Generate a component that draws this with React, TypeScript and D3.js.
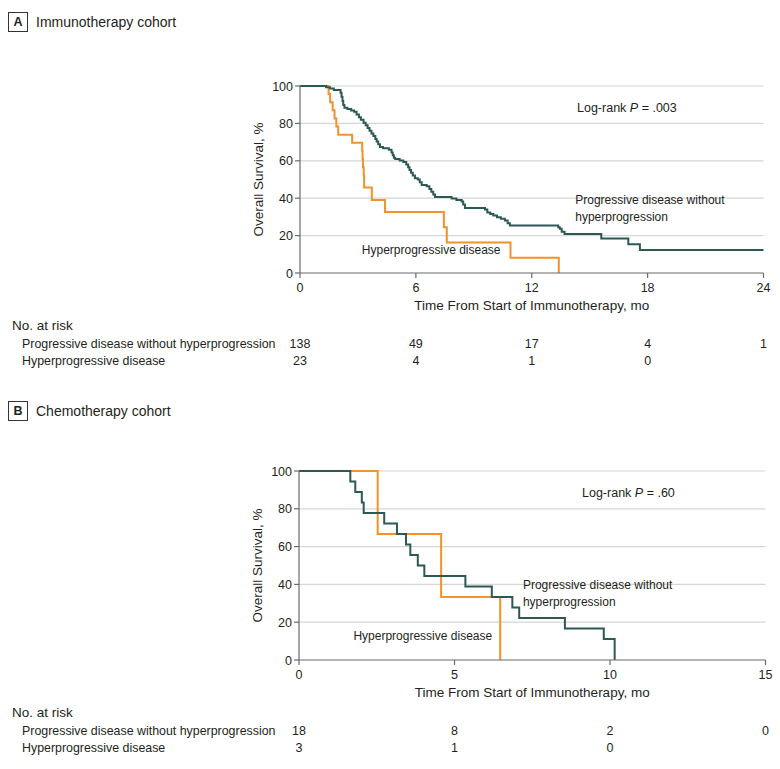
import React from "react";
import * as d3 from "d3";

// ---------- DATA ----------
// Panel A: immunotherapy cohort
const immunoXTicks = [0, 6, 12, 18, 24];
const survTicks = [0, 20, 40, 60, 80, 100];

const immunoPDTimes = [0, 1.35, 1.55, 1.75, 2.1, 2.15, 2.2, 2.24, 2.3, 2.45, 2.65, 2.8, 2.93, 3.05, 3.15, 3.29, 3.4, 3.5, 3.6, 3.7, 3.8, 3.9, 3.97, 4.05, 4.14, 4.3, 4.6, 4.74, 4.8, 4.86, 4.93, 5.16, 5.35, 5.5, 5.6, 5.67, 5.75, 5.84, 5.95, 6.1, 6.2, 6.3, 6.56, 6.7, 6.8, 6.9, 6.99, 7.85, 8.1, 8.37, 8.45, 8.54, 9.58, 9.7, 9.85, 10.01, 10.2, 10.4, 10.61, 10.75, 10.87, 13.37, 13.45, 13.55, 13.7, 15.6, 17.0, 17.6, 24];
const immunoPDSurv = [100, 99.3, 98.6, 97.8, 96.4, 94.2, 92.0, 89.8, 88.4, 87.7, 86.9, 86.2, 84.8, 83.3, 81.9, 80.4, 79.0, 77.5, 76.1, 74.6, 73.2, 71.7, 70.3, 68.8, 67.4, 66.7, 65.9, 64.5, 63.0, 61.6, 60.9, 60.1, 59.4, 58.0, 56.5, 55.1, 53.6, 52.2, 50.7, 50.0, 48.5, 47.1, 46.4, 44.9, 43.5, 42.0, 40.6, 39.8, 39.0, 38.2, 36.6, 34.8, 34.0, 32.3, 31.5, 30.7, 29.8, 29.0, 28.1, 26.6, 25.4, 24.5, 23.6, 22.1, 20.8, 18.5, 15.4, 12.3, 12.3];

const immunoHPTimes = [0, 1.48, 1.56, 1.69, 1.79, 1.88, 1.98, 2.7, 3.22, 3.24, 3.26, 3.3, 3.32, 3.72, 4.4, 7.45, 7.6, 10.9, 13.4];
const immunoHPSurv = [100, 95.7, 91.3, 87.0, 82.6, 78.3, 73.9, 69.6, 65.2, 60.9, 56.5, 52.2, 45.7, 39.1, 32.6, 24.4, 16.3, 8.1, 0];

const immunoRiskPD = ["138", "49", "17", "4", "1"];
const immunoRiskHP = ["23", "4", "1", "0"];

// Panel B: chemotherapy cohort
const chemoXTicks = [0, 5, 10, 15];

const chemoPDTimes = [0, 1.65, 1.81, 2.02, 2.08, 2.74, 3.15, 3.44, 3.58, 3.82, 4.03, 5.35, 6.2, 6.86, 7.08, 8.55, 9.8, 10.15];
const chemoPDSurv = [100, 94.4, 88.9, 83.3, 77.8, 72.2, 66.7, 61.1, 55.6, 50.0, 44.4, 38.9, 33.3, 27.8, 22.2, 16.7, 11.1, 0];

const chemoHPTimes = [0, 2.53, 4.57, 6.47];
const chemoHPSurv = [100, 66.7, 33.3, 0];

const chemoRiskPD = ["18", "8", "2", "0"];
const chemoRiskHP = ["3", "1", "0"];

const groupNames = ["Progressive disease without hyperprogression", "Hyperprogressive disease"];

// ---------- STYLE ----------
const GREEN = "#2d5954";
const ORANGE = "#f2922a";
const GRID = "#d6d6d6";
const AXIS = "#6b6b6b";
const TEXT = "#231f20";
const FONT = "'Liberation Sans', Arial, sans-serif";

type PanelCfg = {
  letter: string;
  title: string;
  titleY: number;
  top: number;
  bottom: number;
  left: number;
  right: number;
  xMax: number;
  xTicks: number[];
  pd: [number[], number[]];
  hp: [number[], number[]];
  riskPD: string[];
  riskHP: string[];
  logrank: string;
  logrankPos: [number, number];
  pdLabelPos: [number, number];
  hpLabelPos: [number, number];
};

function Panel({ c }: { c: PanelCfg }) {
  const x = d3.scaleLinear().domain([0, c.xMax]).range([c.left, c.right]);
  const y = d3.scaleLinear().domain([0, 100]).range([c.bottom, c.top]);
  const line = d3
    .line<[number, number]>()
    .x((d) => x(d[0]))
    .y((d) => y(d[1]))
    .curve(d3.curveStepAfter);
  const pts = (s: [number[], number[]]) => s[0].map((t, i) => [t, s[1][i]] as [number, number]);
  const midX = (c.left + c.right) / 2;
  const midY = (c.top + c.bottom) / 2;
  const b = c.bottom;
  return (
    <g fontFamily={FONT} fill={TEXT}>
      <rect x={8.5} y={c.titleY - 13.5} width={19} height={19} fill="white" stroke="#333" strokeWidth={1} />
      <text x={18} y={c.titleY} textAnchor="middle" fontWeight="bold" fontSize={12.5}>
        {c.letter}
      </text>
      <text x={36} y={c.titleY + 0.5} fontSize={14}>
        {c.title}
      </text>

      {survTicks
        .filter((v) => v > 0)
        .map((v) => (
          <line key={"g" + v} x1={c.left} x2={c.right} y1={y(v)} y2={y(v)} stroke={GRID} strokeWidth={1.2} />
        ))}

      <path d={line(pts(c.hp)) || ""} fill="none" stroke={ORANGE} strokeWidth={2} />
      <path d={line(pts(c.pd)) || ""} fill="none" stroke={GREEN} strokeWidth={2} />

      {/* axes */}
      <line x1={c.left} x2={c.left} y1={c.top} y2={b} stroke={AXIS} strokeWidth={1.2} />
      <line x1={c.left} x2={c.right} y1={b} y2={b} stroke={AXIS} strokeWidth={1.2} />
      {survTicks.map((v) => (
        <g key={"yt" + v}>
          <line x1={c.left - 5} x2={c.left} y1={y(v)} y2={y(v)} stroke={AXIS} strokeWidth={1.2} />
          <text x={c.left - 7} y={y(v) + 4.5} textAnchor="end" fontSize={12.5}>
            {v}
          </text>
        </g>
      ))}
      {c.xTicks.map((v) => (
        <g key={"xt" + v}>
          <line x1={x(v)} x2={x(v)} y1={b} y2={b + 5} stroke={AXIS} strokeWidth={1.2} />
          <text x={x(v)} y={b + 19} textAnchor="middle" fontSize={12.5}>
            {v}
          </text>
        </g>
      ))}
      <text x={midX} y={b + 37} textAnchor="middle" fontSize={13.5}>
        Time From Start of Immunotherapy, mo
      </text>
      <text transform={`translate(${c.left - 37},${midY}) rotate(-90)`} textAnchor="middle" fontSize={13.5}>
        Overall Survival, %
      </text>

      {/* annotations */}
      <text x={c.logrankPos[0]} y={y(c.logrankPos[1])} fontSize={12.5}>
        Log-rank <tspan fontStyle="italic">P</tspan> = {c.logrank}
      </text>
      <text x={x(c.pdLabelPos[0])} y={y(c.pdLabelPos[1])} fontSize={12}>
        <tspan x={x(c.pdLabelPos[0])} dy={0}>Progressive disease without</tspan>
        <tspan x={x(c.pdLabelPos[0])} dy={17}>hyperprogression</tspan>
      </text>
      <text x={x(c.hpLabelPos[0])} y={y(c.hpLabelPos[1])} fontSize={12}>
        Hyperprogressive disease
      </text>

      {/* number at risk */}
      <text x={12} y={b + 57} fontSize={13.5}>
        No. at risk
      </text>
      <text x={22} y={b + 75} fontSize={12.4}>
        {groupNames[0]}
      </text>
      <text x={22} y={b + 92} fontSize={12.4}>
        {groupNames[1]}
      </text>
      {c.riskPD.map((v, i) => (
        <text key={"rp" + i} x={x(c.xTicks[i])} y={b + 75} textAnchor="middle" fontSize={12.5}>
          {v}
        </text>
      ))}
      {c.riskHP.map((v, i) => (
        <text key={"rh" + i} x={x(c.xTicks[i])} y={b + 92} textAnchor="middle" fontSize={12.5}>
          {v}
        </text>
      ))}
    </g>
  );
}

export default function App() {
  const panelA: PanelCfg = {
    letter: "A",
    title: "Immunotherapy cohort",
    titleY: 26,
    top: 86,
    bottom: 273,
    left: 300,
    right: 763.5,
    xMax: 24,
    xTicks: immunoXTicks,
    pd: [immunoPDTimes, immunoPDSurv],
    hp: [immunoHPTimes, immunoHPSurv],
    riskPD: immunoRiskPD,
    riskHP: immunoRiskHP,
    logrank: ".003",
    logrankPos: [577, 86],
    pdLabelPos: [14.25, 36.9],
    hpLabelPos: [3.2, 10.2],
  };
  const panelB: PanelCfg = {
    letter: "B",
    title: "Chemotherapy cohort",
    titleY: 415,
    top: 471,
    bottom: 660,
    left: 299,
    right: 765.5,
    xMax: 15,
    xTicks: chemoXTicks,
    pd: [chemoPDTimes, chemoPDSurv],
    hp: [chemoHPTimes, chemoHPSurv],
    riskPD: chemoRiskPD,
    riskHP: chemoRiskHP,
    logrank: ".60",
    logrankPos: [582, 86],
    pdLabelPos: [7.2, 37.6],
    hpLabelPos: [1.75, 10.6],
  };
  return (
    <svg
      width={780}
      height={769}
      viewBox="0 0 780 769"
      style={{ position: "absolute", left: 0, top: 0, background: "white" }}
    >
      <rect width={780} height={769} fill="white" />
      <Panel c={panelA} />
      <Panel c={panelB} />
    </svg>
  );
}
